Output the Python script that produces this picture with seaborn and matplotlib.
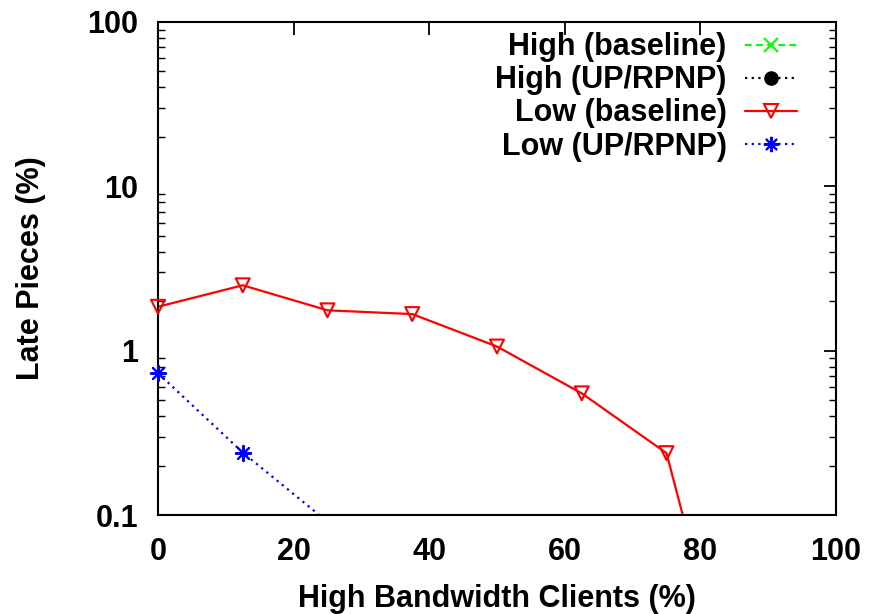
import numpy as np
import pandas as pd
import matplotlib
matplotlib.use("Agg")
import matplotlib.pyplot as plt
from matplotlib.lines import Line2D
from matplotlib.ticker import LogLocator, NullFormatter, FixedLocator
import seaborn as sns

# data (0 = not shown on the log axis)
high_bw = [0, 12.5, 25, 37.5, 50, 62.5, 75, 87.5, 100]
high_baseline = [0, 0, 0, 0, 0, 0, 0, 0, 0]
high_uprpnp = [0, 0, 0, 0, 0, 0, 0, 0, 0]
low_baseline = [1.85, 2.5, 1.76, 1.67, 1.06, 0.55, 0.238, 0.0026, 0]
low_uprpnp = [0.73, 0.24, 0.091, 0, 0, 0, 0, 0, 0]

labels = ["High (baseline)", "High (UP/RPNP)", "Low (baseline)", "Low (UP/RPNP)"]
series = [high_baseline, high_uprpnp, low_baseline, low_uprpnp]
colors = ["#00ff00", "black", "red", "blue"]
dashes = [(0, (3, 2)), (0, (1, 2)), "-", (0, (1, 2))]
markers = ["x", "o", "v", (8, 2, 0)]
msizes = [10, 9, 10, 11]
mfaces = ["none", "black", "none", "none"]

sns.set_style("white")
plt.rcParams["font.family"] = ["Liberation Sans", "DejaVu Sans"]
plt.rcParams["font.weight"] = "bold"
plt.rcParams["axes.labelweight"] = "bold"
for k in ["text.color", "axes.labelcolor", "xtick.color", "ytick.color"]:
    plt.rcParams[k] = "black"

fig = plt.figure(figsize=(8.71, 6.14), dpi=100)
ax = fig.add_axes([0.1814, 0.1612, 0.7784, 0.803])
ymin, ymax = 0.1, 100

for vals, c, ls, m, ms, mf in zip(series, colors, dashes, markers, msizes, mfaces):
    df = pd.DataFrame({"x": high_bw, "y": vals})
    df["y"] = df["y"].where(df["y"] > 0)
    df = df.dropna()
    if not len(df):
        continue
    # line, clipped to the axes
    sns.lineplot(data=df, x="x", y="y", ax=ax, estimator=None, sort=False,
                 color=c, linestyle=ls, linewidth=1.6, legend=False)
    # points inside the y range, drawn unclipped like gnuplot does
    pts = df[(df["y"] >= ymin) & (df["y"] <= ymax)]
    if m in ("x", (8, 2, 0)):
        mkw = dict(color=c)
    else:
        mkw = dict(facecolor=mf, edgecolor=c)
    sns.scatterplot(data=pts, x="x", y="y", ax=ax, marker=m, s=ms ** 2,
                    linewidth=1.5, legend=False, clip_on=False, zorder=3, **mkw)

ax.set_yscale("log")
ax.set_xlim(0, 100)
ax.set_ylim(ymin, ymax)
ax.xaxis.set_major_locator(FixedLocator([0, 20, 40, 60, 80, 100]))
ax.set_yticks([0.1, 1, 10, 100])
ax.set_yticklabels(["0.1", "1", "10", "100"])
ax.yaxis.set_minor_locator(LogLocator(base=10, subs=np.arange(2, 10)))
ax.yaxis.set_minor_formatter(NullFormatter())

ax.tick_params(axis="both", which="major", direction="in", length=9, width=1.3,
               top=True, right=True, labelsize=22, pad=14)
ax.tick_params(axis="x", which="major", pad=16)
ax.tick_params(axis="y", which="minor", direction="in", length=5, width=1.0,
               left=True, right=True)
for sp in ax.spines.values():
    sp.set_linewidth(1.5)
    sp.set_color("black")

ax.set_xlabel("High Bandwidth Clients (%)", fontsize=22, labelpad=12)
ax.set_ylabel("Late Pieces (%)", fontsize=22, labelpad=30)

handles = [Line2D([], [], color=c, linestyle=ls, linewidth=1.6, marker=m,
                  markersize=ms, markerfacecolor=mf, markeredgecolor=c,
                  markeredgewidth=1.5)
           for c, ls, m, ms, mf in zip(colors, dashes, markers, msizes, mfaces)]
ax.legend(handles, labels, loc="upper right", bbox_to_anchor=(0.9425, 0.979),
          frameon=False, markerfirst=False, fontsize=22, handlelength=1.7,
          handletextpad=0.6, labelspacing=0.1, borderaxespad=0, borderpad=0)

fig.savefig("out.png", dpi=100)
